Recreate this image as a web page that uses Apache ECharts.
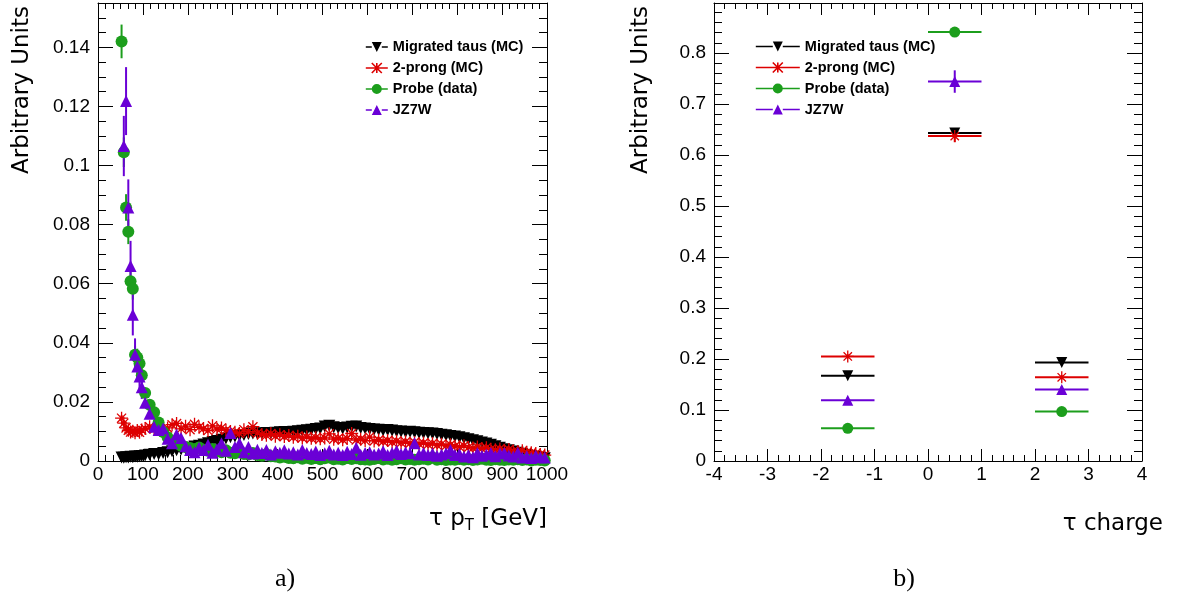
<!DOCTYPE html>
<html><head><meta charset="utf-8">
<script src="https://cdn.jsdelivr.net/npm/echarts@6/dist/echarts.min.js"></script>
<style>html,body{margin:0;padding:0;background:#fff}#c{width:1179px;height:602px}</style>
</head><body><div id="c"></div>
<script>
// ---------- Panel a) : tau pT ----------
const ptEdges = [50,55,60,65,70,75,80,85,90,95,100,
 110,120,130,140,150,160,170,180,190,200,
 210,220,230,240,250,260,270,280,290,300,
 310,320,330,340,350,360,370,380,390,400,
 410,420,430,440,450,460,470,480,490,500,
 510,520,530,540,550,560,570,580,590,600,
 610,620,630,640,650,660,670,680,690,700,
 710,720,730,740,750,760,770,780,790,800,
 810,820,830,840,850,860,870,880,890,900,
 910,920,930,940,950,960,970,980,990,1000];

const ptMigrated = [
 0.0012,0.0011,0.0013,0.0012,0.0014,0.0013,0.0015,0.0014,0.0016,0.0017,
 0.0019,0.0021,0.0024,0.0023,0.0027,0.0030,0.0033,0.0036,0.0039,0.0042,
 0.0045,0.0049,0.0052,0.0056,0.0060,0.0064,0.0068,0.0072,0.0076,0.0080,
 0.0083,0.0086,0.0088,0.0091,0.0093,0.0092,0.0094,0.0095,0.0094,0.0096,
 0.0097,0.0098,0.0097,0.0099,0.0101,0.0102,0.0104,0.0106,0.0108,0.0110,
 0.0117,0.0119,0.0114,0.0112,0.0110,0.0113,0.0116,0.0117,0.0112,0.0110,
 0.0108,0.0107,0.0106,0.0104,0.0105,0.0103,0.0101,0.0100,0.0098,0.0099,
 0.0097,0.0096,0.0095,0.0094,0.0093,0.0091,0.0089,0.0087,0.0085,0.0083,
 0.0080,0.0077,0.0074,0.0070,0.0067,0.0063,0.0059,0.0055,0.0050,0.0045,
 0.0040,0.0036,0.0032,0.0028,0.0024,0.0020,0.0017,0.0014,0.0011,0.0009];

const pt2Prong = [
 0.0145,0.0128,0.0112,0.0104,0.0098,0.0101,0.0096,0.0103,0.0097,0.0105,
 0.0110,0.0116,0.0108,0.0121,0.0104,0.0112,0.0123,0.0127,0.0109,0.0118,
 0.0106,0.0124,0.0114,0.0110,0.0103,0.0119,0.0108,0.0112,0.0104,0.0100,
 0.0097,0.0093,0.0106,0.0099,0.0116,0.0094,0.0090,0.0087,0.0093,0.0084,
 0.0089,0.0083,0.0086,0.0080,0.0084,0.0078,0.0081,0.0077,0.0079,0.0075,
 0.0078,0.0092,0.0074,0.0077,0.0072,0.0076,0.0093,0.0071,0.0074,0.0069,
 0.0081,0.0068,0.0071,0.0066,0.0069,0.0064,0.0067,0.0062,0.0065,0.0060,
 0.0063,0.0058,0.0061,0.0056,0.0059,0.0054,0.0057,0.0052,0.0055,0.0050,
 0.0048,0.0052,0.0046,0.0044,0.0047,0.0042,0.0045,0.0040,0.0038,0.0041,
 0.0036,0.0039,0.0034,0.0032,0.0035,0.0030,0.0028,0.0025,0.0022,0.0020];

const ptProbe = [
 0.1420,0.1045,0.0858,0.0776,0.0608,0.0583,0.0360,0.0350,0.0330,0.0290,
 0.0230,0.0190,0.0165,0.0130,0.0098,0.0080,0.0068,0.0060,0.0052,0.0047,
 0.0044,0.0040,0.0046,0.0038,0.0035,0.0041,0.0033,0.0030,0.0036,0.0028,
 0.0026,0.0031,0.0024,0.0022,0.0027,0.0020,0.0018,0.0023,0.0016,0.0015,
 0.0012,0.0014,0.0010,0.0009,0.0013,0.0008,0.0011,0.0007,0.0010,0.0006,
 0.0009,0.0012,0.0006,0.0008,0.0005,0.0010,0.0007,0.0009,0.0006,0.0005,
 0.0004,0.0007,0.0010,0.0005,0.0008,0.0004,0.0006,0.0009,0.0005,0.0007,
 0.0004,0.0006,0.0008,0.0005,0.0012,0.0004,0.0006,0.0003,0.0005,0.0004,
 0.0007,0.0004,0.0006,0.0003,0.0005,0.0008,0.0004,0.0003,0.0006,0.0004,
 0.0003,0.0005,0.0004,0.0006,0.0003,0.0005,0.0002,0.0004,0.0003,0.0002];

const ptJZ7W = [
 null,0.1066,0.1218,0.0858,0.0660,0.0495,0.0360,0.0320,0.0286,0.0250,
 0.0197,0.0160,0.0116,0.0105,0.0110,0.0075,0.0060,0.0090,0.0078,0.0050,
 0.0037,0.0030,0.0045,0.0037,0.0055,0.0028,0.0040,0.0060,0.0035,0.0095,
 0.0047,0.0060,0.0030,0.0047,0.0025,0.0038,0.0027,0.0037,0.0022,0.0033,
 0.0028,0.0036,0.0025,0.0030,0.0022,0.0037,0.0027,0.0024,0.0032,0.0020,
 0.0026,0.0035,0.0022,0.0028,0.0020,0.0031,0.0024,0.0045,0.0021,0.0027,
 0.0030,0.0022,0.0025,0.0033,0.0020,0.0028,0.0035,0.0024,0.0030,0.0026,
 0.0060,0.0022,0.0027,0.0020,0.0025,0.0018,0.0022,0.0026,0.0037,0.0020,
 0.0024,0.0015,0.0020,0.0013,0.0027,0.0018,0.0022,0.0027,0.0016,0.0025,
 0.0027,0.0019,0.0015,0.0028,0.0012,0.0016,0.0010,0.0018,0.0013,0.0012];

// statistical uncertainties of the first (5 GeV) bins
const ptErrMigrated = [0.0004,0.0004,0.0004,0.0004,0.0004,0.0004,0.0004,0.0004,0.0004,0.0004];
const ptErr2Prong   = [0.0010,0.0009,0.0008,0.0008,0.0007,0.0007,0.0007,0.0007,0.0007,0.0007];
const ptErrProbe    = [0.0057,0.0050,0.0045,0.0042,0.0038,0.0037,0.0030,0.0030,0.0027,0.0025];
const ptErrJZ7W     = [0,0.0102,0.0115,0.0095,0.0085,0.0070,0.0055,0.0050,0.0045,0.0040];

// ---------- Panel b) : tau charge ----------
const chargeBinLow  = [-2, 0, 2];
const chargeBinHigh = [-1, 1, 3];
const chMigrated = [0.167, 0.643, 0.193];
const ch2Prong   = [0.205, 0.637, 0.164];
const chProbe    = [0.064, 0.841, 0.097];
const chJZ7W     = [0.119, 0.744, 0.140];
const chErrMigrated = [0.004, 0.006, 0.004];
const chErr2Prong   = [0.004, 0.012, 0.004];
const chErrProbe    = [0.002, 0.007, 0.002];
const chErrJZ7W     = [0.006, 0.022, 0.007];

const names = ['Migrated taus (MC)', '2-prong (MC)', 'Probe (data)', 'JZ7W'];
const colors = ['#000000', '#dd0000', '#1c9e1c', '#6a00d6'];

// ---------- build ----------
const ptLow = ptEdges.slice(0, -1), ptHigh = ptEdges.slice(1);

function pointsFrom(lows, highs, vals) {
  const out = [];
  vals.forEach((v, i) => { if (v != null) out.push([(lows[i] + highs[i]) / 2, v]); });
  return out;
}
function errFrom(lows, highs, vals, errs) {
  const out = [];
  vals.forEach((v, i) => { if (v != null) out.push([(lows[i] + highs[i]) / 2, v, lows[i], highs[i], errs[i] || 0]); });
  return out;
}

const asterisk = 'path://M0,5L10,5M5,0L5,10M1.5,1.5L8.5,8.5M8.5,1.5L1.5,8.5';
const markerDefs = [
  {symbol: 'triangle', symbolRotate: 180, itemStyle: {color: colors[0], opacity: 1}},
  {symbol: asterisk, itemStyle: {color: 'rgba(0,0,0,0)', borderColor: colors[1], borderWidth: 1.3, opacity: 1}},
  {symbol: 'circle', itemStyle: {color: colors[2], opacity: 1}},
  {symbol: 'triangle', itemStyle: {color: colors[3], opacity: 1}}
];

function errSeries(idx, xAxisIndex, yAxisIndex, data, color, lw) {
  return {
    type: 'custom', name: 'err' + idx + '_' + xAxisIndex,
    xAxisIndex, yAxisIndex, data, encode: {x: 0, y: 1},
    renderItem: function (params, api) {
      const x = api.value(0), y = api.value(1), lo = api.value(2), hi = api.value(3), e = api.value(4);
      const a = api.coord([lo, y]), b = api.coord([hi, y]);
      const children = [{type: 'line', shape: {x1: a[0], y1: a[1], x2: b[0], y2: b[1]}, style: {stroke: color, lineWidth: lw}}];
      if (e > 0) {
        const c = api.coord([x, y - e]), d = api.coord([x, y + e]);
        children.push({type: 'line', shape: {x1: c[0], y1: c[1], x2: d[0], y2: d[1]}, style: {stroke: color, lineWidth: lw}});
      }
      return {type: 'group', children};
    },
    z: 2, animation: false, silent: true
  };
}
function ptsSeries(idx, xAxisIndex, yAxisIndex, data, size) {
  const m = markerDefs[idx];
  return Object.assign({
    type: 'scatter', name: names[idx], xAxisIndex, yAxisIndex, data,
    symbolSize: idx === 1 ? size + 1 : size, z: 2, animation: false, silent: true
  }, m);
}

const ptVals = [ptMigrated, pt2Prong, ptProbe, ptJZ7W];
const ptErrs = [ptErrMigrated, ptErr2Prong, ptErrProbe, ptErrJZ7W];
const chVals = [chMigrated, ch2Prong, chProbe, chJZ7W];
const chErrs = [chErrMigrated, chErr2Prong, chErrProbe, chErrJZ7W];

const series = [];
for (let i = 0; i < 4; i++) {
  series.push(errSeries(i, 0, 0, errFrom(ptLow, ptHigh, ptVals[i], ptErrs[i]), colors[i], 2));
  series.push(ptsSeries(i, 0, 0, pointsFrom(ptLow, ptHigh, ptVals[i]), 12));
}
for (let i = 0; i < 4; i++) {
  series.push(errSeries(i, 2, 2, errFrom(chargeBinLow, chargeBinHigh, chVals[i], chErrs[i]), colors[i], 2));
  series.push(ptsSeries(i, 2, 2, pointsFrom(chargeBinLow, chargeBinHigh, chVals[i]), 11));
}

const FONT = 'Liberation Sans';
const TITLE_FONT = 'DejaVu Sans';
const fmt = v => String(+v.toFixed(4));
function axisBase(extra) {
  return Object.assign({
    axisLine: {show: true, onZero: false, lineStyle: {color: '#000', width: 1}},
    splitLine: {show: false},
  }, extra);
}
function xAx(gridIndex, pos, min, max, interval, minorSplit, showLabel) {
  return axisBase({
    type: 'value', gridIndex, position: pos, min, max, interval,
    axisTick: {show: true, inside: true, length: 12, lineStyle: {color: '#000'}},
    minorTick: {show: true, splitNumber: minorSplit, length: 6, lineStyle: {color: '#000'}},
    axisLabel: {show: showLabel, color: '#000', fontFamily: FONT, fontSize: 19, margin: 4, formatter: fmt}
  });
}
function yAx(gridIndex, pos, min, max, interval, minorSplit, showLabel) {
  return axisBase({
    type: 'value', gridIndex, position: pos, min, max, interval,
    axisTick: {show: true, inside: true, length: 15, lineStyle: {color: '#000'}},
    minorTick: {show: true, splitNumber: minorSplit, length: 8, lineStyle: {color: '#000'}},
    axisLabel: {show: showLabel, showMaxLabel: false, color: '#000', fontFamily: FONT, fontSize: 19, margin: 8, formatter: fmt}
  });
}

const leftIcons = [
  'path://M0,4.2L6,4.2L6,5.8L0,5.8Z M16,4.2L22,4.2L22,5.8L16,5.8Z M6,0L16,0L11,10Z',
  'path://M0,5L22,5 M6,0L16,10 M16,0L6,10 M11,0L11,10',
  'path://M0,4.2L6.5,4.2L6.5,5.8L0,5.8Z M15.5,4.2L22,4.2L22,5.8L15.5,5.8Z M16,5A5,5,0,1,1,6,5A5,5,0,1,1,16,5Z',
  'path://M0,4.2L6,4.2L6,5.8L0,5.8Z M16,4.2L22,4.2L22,5.8L16,5.8Z M11,0L16,10L6,10Z'
];
const rightIcons = [
  'path://M0,4.2L17,4.2L17,5.8L0,5.8Z M27,4.2L44,4.2L44,5.8L27,5.8Z M17,0L27,0L22,10Z',
  'path://M0,5L44,5 M17,0L27,10 M27,0L17,10 M22,0L22,10',
  'path://M0,4.2L17.5,4.2L17.5,5.8L0,5.8Z M26.5,4.2L44,4.2L44,5.8L26.5,5.8Z M27,5A5,5,0,1,1,17,5A5,5,0,1,1,27,5Z',
  'path://M0,4.2L17,4.2L17,5.8L0,5.8Z M27,4.2L44,4.2L44,5.8L27,5.8Z M22,0L27,10L17,10Z'
];
function legendData(icons) {
  return names.map((n, i) => ({
    name: n, icon: icons[i],
    itemStyle: i === 1 ? {color: 'rgba(0,0,0,0)', borderColor: colors[1], borderWidth: 1.6, opacity: 1}
                       : {color: colors[i], borderWidth: 0, opacity: 1}
  }));
}
const legendText = {color: '#000', fontFamily: FONT, fontWeight: 'bold', fontSize: 14.5, lineHeight: 16};

const option = {
  animation: false,
  backgroundColor: '#ffffff',
  grid: [
    {left: 98, top: 3, width: 449, bottom: 141},
    {left: 714, top: 3, width: 428, bottom: 141}
  ],
  xAxis: [
    xAx(0, 'bottom', 0, 1000, 100, 6, true),
    xAx(0, 'top', 0, 1000, 100, 6, false),
    xAx(1, 'bottom', -4, 4, 1, 5, true),
    xAx(1, 'top', -4, 4, 1, 5, false)
  ],
  yAxis: [
    yAx(0, 'left', 0, 0.155, 0.02, 4, true),
    yAx(0, 'right', 0, 0.155, 0.02, 4, false),
    yAx(1, 'left', 0, 0.898, 0.1, 5, true),
    yAx(1, 'right', 0, 0.898, 0.1, 5, false)
  ],
  legend: [
    {orient: 'vertical', left: 365, top: 39, padding: 0, itemGap: 5, itemWidth: 22, itemHeight: 10,
     selectedMode: false, data: legendData(leftIcons), textStyle: legendText},
    {orient: 'vertical', left: 755, top: 38.5, padding: 0, itemGap: 5, itemWidth: 44, itemHeight: 10,
     selectedMode: false, data: legendData(rightIcons), textStyle: legendText}
  ],
  graphic: [
    {type: 'text', x: 22, y: 6, rotation: Math.PI / 2,
     style: {text: 'Arbitrary Units', fontFamily: TITLE_FONT, fontSize: 23, fill: '#000', align: 'right', verticalAlign: 'middle'}},
    {type: 'text', x: 641, y: 6, rotation: Math.PI / 2,
     style: {text: 'Arbitrary Units', fontFamily: TITLE_FONT, fontSize: 23, fill: '#000', align: 'right', verticalAlign: 'middle'}},
    {type: 'text', x: 547, y: 508,
     style: {text: '{n|τ p}{s|T}{n| [GeV]}', align: 'right', verticalAlign: 'top', fill: '#000',
       rich: {n: {fontFamily: TITLE_FONT, fontSize: 23, lineHeight: 26, verticalAlign: 'top'},
              s: {fontFamily: TITLE_FONT, fontSize: 15, lineHeight: 26, padding: [11, 0, 0, 0], verticalAlign: 'top'}}}},
    {type: 'text', x: 1163, y: 524,
     style: {text: 'τ charge', fontFamily: TITLE_FONT, fontSize: 23, fill: '#000', align: 'right', verticalAlign: 'middle'}},
    {type: 'text', x: 285, y: 579,
     style: {text: 'a)', fontFamily: 'Liberation Serif', fontSize: 26, fill: '#000', align: 'center', verticalAlign: 'middle'}},
    {type: 'text', x: 904, y: 579,
     style: {text: 'b)', fontFamily: 'Liberation Serif', fontSize: 26, fill: '#000', align: 'center', verticalAlign: 'middle'}}
  ],
  series
};

const chart = echarts.init(document.getElementById('c'), null, {renderer: 'canvas'});
chart.setOption(option);
</script>
</body></html>
